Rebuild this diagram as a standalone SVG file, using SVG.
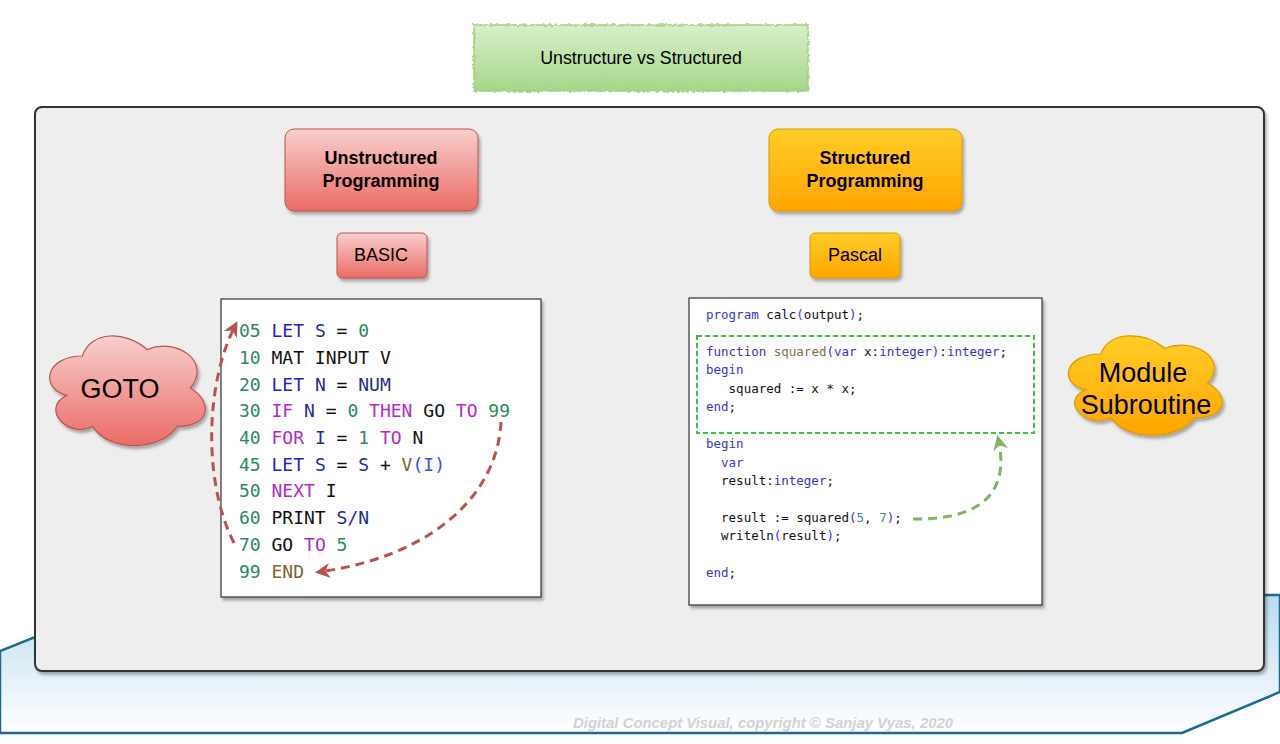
<svg xmlns="http://www.w3.org/2000/svg" width="1280" height="744" viewBox="0 0 1280 744">
<defs>
<linearGradient id="gBlue" x1="0" y1="0" x2="0" y2="1"><stop offset="0" stop-color="#b9dcef"/><stop offset="1" stop-color="#ffffff"/></linearGradient>
<linearGradient id="gGreen" x1="0" y1="0" x2="0" y2="1"><stop offset="0" stop-color="#d8efc9"/><stop offset="1" stop-color="#a6d68a"/></linearGradient>
<linearGradient id="gRed" x1="0" y1="0" x2="0" y2="1"><stop offset="0" stop-color="#f8cfcd"/><stop offset="1" stop-color="#ea6b66"/></linearGradient>
<linearGradient id="gOrange" x1="0" y1="0" x2="0" y2="1"><stop offset="0" stop-color="#ffcd28"/><stop offset="1" stop-color="#ffa500"/></linearGradient>
<filter id="shadow" x="-10%" y="-10%" width="130%" height="130%"><feDropShadow dx="2" dy="3" stdDeviation="1.5" flood-color="#000" flood-opacity="0.3"/></filter>
<filter id="rough" x="-5%" y="-20%" width="110%" height="140%"><feTurbulence type="fractalNoise" baseFrequency="0.35" numOctaves="1" seed="3"/><feDisplacementMap in="SourceGraphic" scale="4"/></filter>
<marker id="arRed" viewBox="0 0 10 10" refX="8" refY="5" markerWidth="5" markerHeight="5" orient="auto" markerUnits="strokeWidth"><path d="M0,0 L10,5 L0,10 L3,5 Z" fill="#b85450"/></marker>
<marker id="arGreen" viewBox="0 0 10 10" refX="8" refY="5" markerWidth="5" markerHeight="5" orient="auto" markerUnits="strokeWidth"><path d="M0,0 L10,5 L0,10 L3,5 Z" fill="#82b366"/></marker>
</defs>
<style>
.sans{font-family:"Liberation Sans",Arial,Helvetica,sans-serif;fill:#000}
.b{font-weight:bold}
.basic{font-family:"DejaVu Sans Mono","Liberation Mono",monospace;font-size:18px;fill:#111}
.pas{font-family:"DejaVu Sans Mono","Liberation Mono",monospace;font-size:12.5px;fill:#111}
.num{fill:#2b8a5f}.kw{fill:#2323bb}.var{fill:#1f2f8f}.ctl{fill:#b02cc8}.lit{fill:#2b8a5f}.fn{fill:#7a6631}.par{fill:#3355dd}
.pk{fill:#3636cc}.pf{fill:#8a6e45}.pn{fill:#3a8a8a}
.redArrow{fill:none;stroke:#b85450;stroke-width:3;stroke-dasharray:9 6}
.greenArrow{fill:none;stroke:#82b366;stroke-width:3;stroke-dasharray:9 6}
</style>

<g id="band">
<polygon points="0,651 140,595 1280,595 1280,692 1182,733 0,733" fill="url(#gBlue)" stroke="#1c6a93" stroke-width="2.5"/>
</g>

<g id="title">
<rect x="474" y="25" width="334" height="66" fill="url(#gGreen)" stroke="#9dcf80" stroke-width="1.5" filter="url(#rough)"/>
<text class="sans" x="641" y="64" font-size="17.8" text-anchor="middle">Unstructure vs Structured</text>
</g>

<g id="container">
<rect x="35" y="107" width="1229" height="564" rx="7" fill="#eeeeee" stroke="#333" stroke-width="2" filter="url(#shadow)"/>
</g>

<g id="unstructured">
<rect x="285" y="129" width="193" height="82" rx="9" fill="url(#gRed)" stroke="#b85450" stroke-width="1" filter="url(#shadow)"/>
<text class="sans b" x="381" y="164" font-size="18" text-anchor="middle">Unstructured</text>
<text class="sans b" x="381" y="187" font-size="18" text-anchor="middle">Programming</text>
</g>

<g id="basic">
<rect x="337" y="233" width="90" height="45" rx="5" fill="url(#gRed)" stroke="#b85450" stroke-width="1" filter="url(#shadow)"/>
<text class="sans" x="381" y="261" font-size="18" text-anchor="middle">BASIC</text>
</g>

<g id="structured">
<rect x="769" y="129" width="193" height="82" rx="9" fill="url(#gOrange)" stroke="#d79b00" stroke-width="1" filter="url(#shadow)"/>
<text class="sans b" x="865" y="164" font-size="18" text-anchor="middle">Structured</text>
<text class="sans b" x="865" y="187" font-size="18" text-anchor="middle">Programming</text>
</g>

<g id="pascal">
<rect x="810" y="233" width="90" height="45" rx="5" fill="url(#gOrange)" stroke="#d79b00" stroke-width="1" filter="url(#shadow)"/>
<text class="sans" x="855" y="261" font-size="18" text-anchor="middle">Pascal</text>
</g>

<g id="goto">
<path d="M82.3,356 C45.6,356 39,388 66.7,395.4 C39,409.5 70.1,439.2 92.6,426.4 C108.2,452 160,452 177.4,426.4 C212,426.4 212,400.8 190.4,388 C212,362.4 177.4,336.8 147.1,349.6 C125.5,330.4 90.9,330.4 82.3,356 Z" fill="url(#gRed)" stroke="#b85450" stroke-width="1.2" filter="url(#shadow)"/>
<text class="sans" x="120" y="398" font-size="27" text-anchor="middle">GOTO</text>
</g>

<g id="module">
<path d="M1100.8,354 C1064.1,354 1058,383 1085.4,389.8 C1058,402.6 1088.8,429.4 1111.0,417.8 C1126.4,441 1177.7,441 1194.8,417.8 C1229,417.8 1229,394.6 1207.6,383 C1229,359.8 1194.8,336.6 1164.9,348.2 C1143.5,330.8 1109.3,330.8 1100.8,354 Z" fill="url(#gOrange)" stroke="#d79b00" stroke-width="1.2" filter="url(#shadow)"/>
<text class="sans" x="1143" y="382" font-size="27" text-anchor="middle">Module</text>
<text class="sans" x="1146" y="414" font-size="27" text-anchor="middle">Subroutine</text>
</g>

<g id="basicCode">
<rect x="221" y="299" width="320" height="298" fill="#fff" stroke="#333" stroke-width="1.2" filter="url(#shadow)"/>
<text class="basic" x="239" y="337" xml:space="preserve"><tspan class="num">05</tspan> <tspan class="kw">LET</tspan> <tspan class="var">S</tspan> = <tspan class="lit">0</tspan></text>
<text class="basic" x="239" y="364" xml:space="preserve"><tspan class="num">10</tspan> MAT INPUT V</text>
<text class="basic" x="239" y="391" xml:space="preserve"><tspan class="num">20</tspan> <tspan class="kw">LET</tspan> <tspan class="var">N</tspan> = <tspan class="var">NUM</tspan></text>
<text class="basic" x="239" y="417" xml:space="preserve"><tspan class="num">30</tspan> <tspan class="ctl">IF</tspan> <tspan class="var">N</tspan> = <tspan class="lit">0</tspan> <tspan class="ctl">THEN</tspan> GO <tspan class="ctl">TO</tspan> <tspan class="lit">99</tspan></text>
<text class="basic" x="239" y="444" xml:space="preserve"><tspan class="num">40</tspan> <tspan class="ctl">FOR</tspan> <tspan class="var">I</tspan> = <tspan class="lit">1</tspan> <tspan class="ctl">TO</tspan> N</text>
<text class="basic" x="239" y="471" xml:space="preserve"><tspan class="num">45</tspan> <tspan class="kw">LET</tspan> <tspan class="var">S</tspan> = <tspan class="var">S</tspan> + <tspan class="fn">V</tspan><tspan class="par">(I)</tspan></text>
<text class="basic" x="239" y="497" xml:space="preserve"><tspan class="num">50</tspan> <tspan class="ctl">NEXT</tspan> I</text>
<text class="basic" x="239" y="524" xml:space="preserve"><tspan class="num">60</tspan> PRINT <tspan class="var">S/N</tspan></text>
<text class="basic" x="239" y="551" xml:space="preserve"><tspan class="num">70</tspan> GO <tspan class="ctl">TO</tspan> <tspan class="lit">5</tspan></text>
<text class="basic" x="239" y="578" xml:space="preserve"><tspan class="num">99</tspan> <tspan class="fn">END</tspan></text>
</g>

<g id="pascalCode">
<rect x="689" y="298" width="353" height="307" fill="#fff" stroke="#333" stroke-width="1.2" filter="url(#shadow)"/>
<text class="pas" x="706" y="319" xml:space="preserve"><tspan class="pk">program</tspan> calc<tspan class="pk">(</tspan>output<tspan class="pk">)</tspan>;</text>
<text class="pas" x="706" y="356" xml:space="preserve"><tspan class="pk">function</tspan> <tspan class="pf">squared</tspan><tspan class="pk">(var</tspan> x:<tspan class="pk">integer)</tspan>:<tspan class="pk">integer</tspan>;</text>
<text class="pas" x="706" y="374" xml:space="preserve"><tspan class="pk">begin</tspan></text>
<text class="pas" x="706" y="393" xml:space="preserve">   squared := x * x;</text>
<text class="pas" x="706" y="411" xml:space="preserve"><tspan class="pk">end</tspan>;</text>
<text class="pas" x="706" y="448" xml:space="preserve"><tspan class="pk">begin</tspan></text>
<text class="pas" x="706" y="467" xml:space="preserve">  <tspan class="pk">var</tspan></text>
<text class="pas" x="706" y="485" xml:space="preserve">  result:<tspan class="pk">integer</tspan>;</text>
<text class="pas" x="706" y="522" xml:space="preserve">  result := squared<tspan class="pk">(</tspan><tspan class="pn">5</tspan>, <tspan class="pn">7</tspan><tspan class="pk">)</tspan>;</text>
<text class="pas" x="706" y="540" xml:space="preserve">  writeln<tspan class="pk">(</tspan>result<tspan class="pk">)</tspan>;</text>
<text class="pas" x="706" y="577" xml:space="preserve"><tspan class="pk">end</tspan>;</text>
<rect x="697" y="336" width="337" height="97" fill="none" stroke="#3fbf3f" stroke-width="2" stroke-dasharray="5 3"/>
</g>

<g id="connectors">
<path class="redArrow" d="M234,543 C202,480 206,380 236,324" marker-end="url(#arRed)"/>
<path class="redArrow" d="M501,422 C497,500 425,558 318,572" marker-end="url(#arRed)"/>
<path class="greenArrow" d="M913,519 C985,520 1010,490 998,438" marker-end="url(#arGreen)"/>
</g>

<g id="watermark">
<text class="sans b" x="763" y="728" font-size="14.5" font-style="italic" text-anchor="middle" textLength="380" lengthAdjust="spacingAndGlyphs" style="fill:#d2d2d2">Digital Concept Visual, copyright © Sanjay Vyas, 2020</text>
</g>
</svg>
